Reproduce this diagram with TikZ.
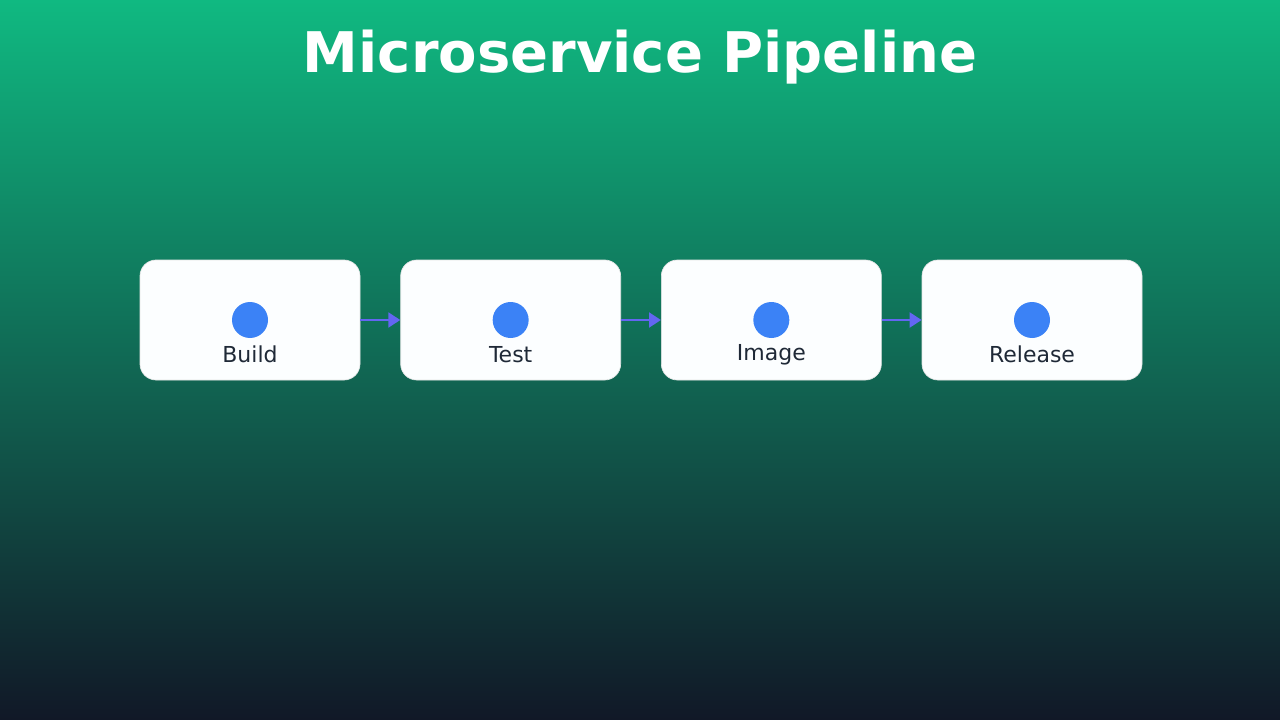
\documentclass[tikz,border=0pt]{standalone}
\usepackage{fontspec}
\setmainfont{DejaVu Sans}
\usetikzlibrary{positioning,arrows.meta}
\definecolor{topgreen}{HTML}{10B981}
\definecolor{botnavy}{HTML}{111827}
\definecolor{boxfill}{HTML}{FCFEFF}
\definecolor{dotblue}{HTML}{3B82F6}
\definecolor{labelgray}{HTML}{1F2937}
\definecolor{arrowblue}{HTML}{6366F1}
\tikzset{
  stage/.style={draw=boxfill!80!gray, line width=0.5pt, fill=boxfill, rounded corners=12pt,
    minimum width=165pt, minimum height=90pt, inner sep=0pt},
  dot/.style={circle, fill=dotblue, minimum size=27pt, inner sep=0pt},
  stagelabel/.style={text=labelgray, font=\fontsize{16.5}{18}\selectfont},
  link/.style={arrowblue, line width=2.2pt, -{Triangle[length=9pt,width=11pt]}}
}
\begin{document}
\begin{tikzpicture}[x=0.75pt,y=-0.75pt]
\shade[top color=topgreen, bottom color=botnavy, middle color=topgreen!50!botnavy] (0,0) rectangle (1280,720);
\useasboundingbox (0,0) rectangle (1280,720);
% title
\node[text=white, font=\bfseries\fontsize{42}{48}\selectfont] (title) at (640,57) {Microservice Pipeline};
% stages
\node[stage] (build) at (250,320) {};
\node[stage, right=30pt of build] (test) {};
\node[stage, right=30pt of test] (image) {};
\node[stage, right=30pt of image] (release) {};
\foreach \s/\t in {build/Build,test/Test,image/Image,release/Release}{
  \node[dot] (\s-dot) at (\s) {};
  \node[stagelabel] (\s-label) at ([yshift=-26pt]\s.center) {\t};
}
% links
\draw[link] (build) -- (test);
\draw[link] (test) -- (image);
\draw[link] (image) -- (release);
\end{tikzpicture}
\end{document}
